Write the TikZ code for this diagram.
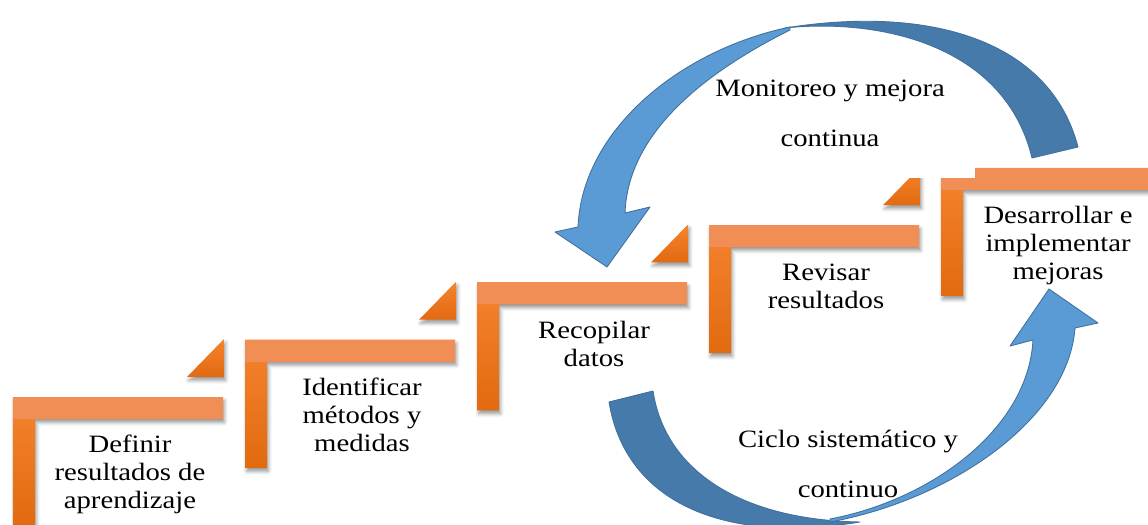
\documentclass[tikz,border=0pt]{standalone}
\usepackage{fontspec}
\setmainfont{Liberation Serif}[FakeStretch=1.15]
\usetikzlibrary{shadows.blur}
\definecolor{BarLight}{RGB}{240,142,86}
\definecolor{BarOrange}{RGB}{245,131,46}
\definecolor{BarDark}{RGB}{226,106,16}
\definecolor{ArrowLight}{RGB}{91,155,213}
\definecolor{ArrowDark}{RGB}{70,122,170}
\definecolor{ArrowLine}{RGB}{65,113,156}

\begin{document}
\begin{tikzpicture}[
    font=\fontsize{14.2}{15.9}\selectfont,
    stepbar/.style={top color=BarOrange, bottom color=BarDark,
        blur shadow={shadow xshift=0.03cm, shadow yshift=-0.07cm,
            shadow blur radius=0.07cm, shadow opacity=40}},
    topbar/.style={fill=BarLight},
    corner/.style={stepbar},
    steptext/.style={anchor=north, align=center, inner sep=0pt},
    looptext/.style={align=center, inner sep=0pt, font=\fontsize{14.2}{28.45}\selectfont},
    backarrow/.style={fill=ArrowDark, draw=ArrowLine, line width=0.5pt, line join=round},
    frontarrow/.style={fill=ArrowLight, draw=ArrowLine, line width=0.5pt, line join=round},
]
\useasboundingbox (0,0) rectangle (22.96,10.48);

% ---- escalones ----
\foreach \i/\lbl in {0/{Definir\\resultados de\\aprendizaje},
                     1/{Identificar\\métodos y\\medidas},
                     2/{Recopilar\\datos},
                     3/{Revisar\\resultados},
                     4/{Desarrollar e\\implementar\\mejoras}}{
    \coordinate (s\i) at (0.26+4.64*\i, 2.54+1.145*\i);
    \path[stepbar] (s\i) -- ++(4.2,0) -- ++(0,-0.44) -- ++(-3.76,0)
        -- ++(0,-2.12) -- ++(-0.44,0) -- cycle;
    \fill[topbar] (s\i) rectangle ++(4.2,-0.44);
    \node[steptext] (step\i) at ([shift={(2.34,-0.76)}]s\i) {\lbl};
}
\foreach \i in {0,...,3}
    \path[corner] ([shift={(3.48,0.40)}]s\i) -- ++(0.74,0) -- ++(0,0.76) -- cycle;

% ---- texto del ciclo superior (tapa el escalon final) ----
\node[looptext, fill=white, minimum width=5.8cm, minimum height=2.58cm]
    (monitor) at (16.60,8.21) {Monitoreo y mejora\\continua};

% ---- flecha superior ----
\path[backarrow] (21.56,7.54) .. controls (21.00,9.68) and (18.60,10.38) .. (15.70,9.92)
    .. controls (17.60,10.12) and (20.10,9.58) .. (20.64,7.32) -- cycle;
\path[frontarrow] (15.80,9.94) .. controls (13.60,9.48) and (11.64,7.88) .. (11.56,5.94)
    -- (11.10,5.84) -- (12.14,5.14) -- (13.00,6.34) -- (12.50,6.22)
    .. controls (12.56,7.88) and (14.20,9.08) .. (15.80,9.88) -- cycle;

% ---- flecha inferior ----
\path[backarrow] (12.18,2.44) .. controls (12.50,0.48) and (14.40,-0.42) .. (17.20,0.04)
    .. controls (14.80,0.08) and (13.30,1.08) .. (13.06,2.66) -- cycle;
\path[frontarrow] (16.60,0.04) .. controls (19.00,0.48) and (21.36,2.08) .. (21.50,3.92)
    -- (21.96,4.02) -- (20.98,4.70) -- (20.20,3.56) -- (20.66,3.68)
    .. controls (20.56,1.88) and (18.60,0.48) .. (16.60,0.10) -- cycle;

\node[looptext] (cycle) at (16.96,1.21) {Ciclo sistemático y\\continuo};

\end{tikzpicture}
\end{document}
